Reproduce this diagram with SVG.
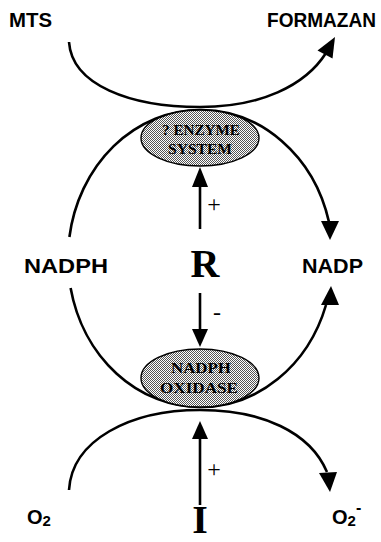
<svg xmlns="http://www.w3.org/2000/svg" width="381" height="542" viewBox="0 0 381 542">
<defs>
<pattern id="stipple" width="2" height="2" patternUnits="userSpaceOnUse">
<rect width="2" height="2" fill="#ffffff"/>
<rect width="1" height="1" fill="#555555"/>
<rect x="1" y="1" width="1" height="1" fill="#555555"/>
</pattern>
<style>
.curve{fill:none;stroke:#000;stroke-width:2.6}
.head{fill:#000;stroke:none}
.lbl{font-family:"Liberation Sans",Arial,sans-serif;font-weight:bold;font-size:20px;fill:#000}
.big{font-family:"Liberation Serif","Times New Roman",serif;font-weight:bold;font-size:40px;fill:#000;text-anchor:middle}
.sign{font-family:"Liberation Serif","Times New Roman",serif;font-size:24px;fill:#000;text-anchor:middle}
.enz{fill:url(#stipple);stroke:#000;stroke-width:1.4}
.etxt{font-family:"Liberation Serif","Times New Roman",serif;font-weight:bold;font-size:15.5px;fill:#000;text-anchor:middle}
</style>
</defs>
<rect width="381" height="542" fill="#fff"/>

<g id="connectors">
<!-- MTS -> FORMAZAN -->
<path class="curve" d="M69,42 C72,85 130,107 200,107 C260,107 305,86 326,53"/>
<polygon class="head" points="335,37 332.5,58.5 317.5,50.5"/>
<!-- O2 -> O2- -->
<path class="curve" d="M69,490 C72,440 130,410 200,410 C262,410 310,432 327,472"/>
<polygon class="head" points="330,492 319,473 337,472"/>
<!-- NADPH -> NADP via enzyme system -->
<path class="curve" d="M200,110 A132,148.5 0 0 0 69.4,237"/>
<path class="curve" d="M200,110 A132,148.5 0 0 1 329,222"/>
<polygon class="head" points="330,240 321,221 339,221"/>
<!-- NADPH -> NADP via NADPH oxidase -->
<path class="curve" d="M70.6,288 A132,148.5 0 0 0 200,407"/>
<path class="curve" d="M200,407 A132,148.5 0 0 0 326,305"/>
<polygon class="head" points="331,286 321,305 339,305"/>
<!-- R + -> enzyme system -->
<line class="curve" x1="200" y1="229" x2="200" y2="185"/>
<polygon class="head" points="200,167 192,187 208,187"/>
<!-- R - -> NADPH oxidase -->
<line class="curve" x1="200" y1="293" x2="200" y2="331"/>
<polygon class="head" points="200,347 192,329 208,329"/>
<!-- I + -> NADPH oxidase -->
<line class="curve" x1="200" y1="505" x2="200" y2="437"/>
<polygon class="head" points="200,421 192,439 208,439"/>
</g>

<g id="enzyme-system">
<ellipse class="enz" cx="200" cy="138" rx="59" ry="28"/>
<text class="etxt" x="201" y="135" textLength="78" lengthAdjust="spacingAndGlyphs">? ENZYME</text>
<text class="etxt" x="200" y="154" textLength="64" lengthAdjust="spacingAndGlyphs">SYSTEM</text>
</g>

<g id="nadph-oxidase">
<ellipse class="enz" cx="200" cy="378" rx="59" ry="29"/>
<text class="etxt" x="201" y="373" textLength="60" lengthAdjust="spacingAndGlyphs">NADPH</text>
<text class="etxt" x="199" y="393" textLength="78" lengthAdjust="spacingAndGlyphs">OXIDASE</text>
</g>

<g id="mts"><text class="lbl" x="9" y="27" textLength="43" lengthAdjust="spacingAndGlyphs">MTS</text></g>
<g id="formazan"><text class="lbl" x="267" y="27" textLength="109" lengthAdjust="spacingAndGlyphs">FORMAZAN</text></g>
<g id="nadph"><text class="lbl" x="24" y="273" textLength="84" lengthAdjust="spacingAndGlyphs">NADPH</text></g>
<g id="nadp"><text class="lbl" x="302" y="273" textLength="61" lengthAdjust="spacingAndGlyphs">NADP</text></g>
<g id="o2"><text class="lbl" x="27" y="524">O<tspan font-size="15" dy="2">2</tspan></text></g>
<g id="o2minus"><text class="lbl" x="332" y="524">O<tspan font-size="15" dy="2">2</tspan><tspan font-size="16" dy="-13">-</tspan></text></g>

<g id="R">
<text class="big" x="205" y="277">R</text>
<text class="sign" x="214" y="212">+</text>
<text class="sign" x="217" y="320">-</text>
</g>
<g id="I">
<text class="big" x="200" y="533" font-size="38">I</text>
<text class="sign" x="214" y="477">+</text>
</g>
</svg>
